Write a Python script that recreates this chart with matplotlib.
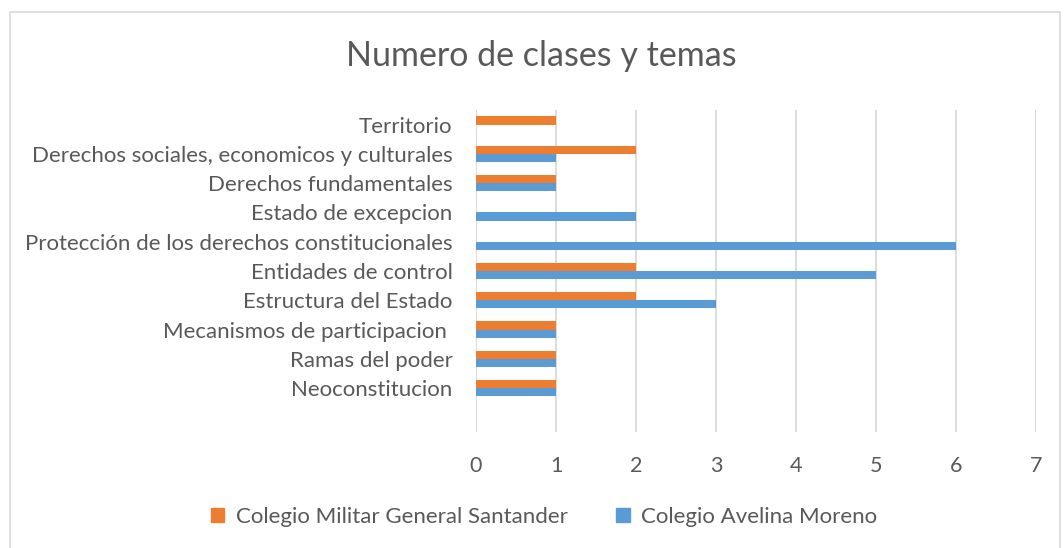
import matplotlib
matplotlib.use("Agg")
import matplotlib.pyplot as plt
from matplotlib.patches import Rectangle, Patch
import numpy as np

categories = ["Neoconstitucion", "Ramas del poder", "Mecanismos de participacion ",
              "Estructura del Estado", "Entidades de control",
              "Protección de los derechos constitucionales", "Estado de excepcion",
              "Derechos fundamentales", "Derechos sociales, economicos y culturales",
              "Territorio"]
militar = [1, 1, 1, 2, 2, 0, 0, 1, 2, 1]
avelina = [1, 1, 1, 3, 5, 6, 2, 1, 1, 0]
series_names = ["Colegio Militar General Santander", "Colegio Avelina Moreno"]
xticks = [0, 1, 2, 3, 4, 5, 6, 7]

ORANGE = "#ED7D31"
BLUE = "#5B9BD5"
TXT = "#595959"
GRID = "#D9D9D9"
FONT = "Lato"

W, H = 1064, 548
fig = plt.figure(figsize=(W / 100, H / 100), dpi=100)
ax = fig.add_axes([476 / W, 1 - 432 / H, (1036 - 476) / W, (432 - 110) / H])

y = np.arange(len(categories))
h = 0.28
ax.barh(y + h / 2, militar, height=h, color=ORANGE, zorder=3)
ax.barh(y - h / 2, avelina, height=h, color=BLUE, zorder=3)

ax.set_xlim(0, 7)
ax.set_ylim(-1.5, len(categories) - 0.5)
ax.set_xticks(xticks)
ax.set_xticklabels([str(t) for t in xticks], fontsize=15.5, color=TXT, family=FONT)
ax.set_yticks(y)
ax.set_yticklabels(categories, fontsize=16, color=TXT, family=FONT)
ax.tick_params(axis="both", length=0)
ax.tick_params(axis="x", pad=17)
ax.tick_params(axis="y", pad=17)
ax.grid(axis="x", color=GRID, linewidth=1.3, zorder=0)
for s in ax.spines.values():
    s.set_visible(False)

fig.text(541 / W, 1 - 56 / H, "Numero de clases y temas", ha="center", va="center",
         fontsize=24.5, color=TXT, family=FONT)

handles = [Patch(color=ORANGE), Patch(color=BLUE)]
leg = fig.legend(handles, series_names, loc="center", bbox_to_anchor=(544 / W, 1 - 517 / H),
                 ncol=2, frameon=False, prop={"family": FONT, "size": 16},
                 handlelength=0.6, handleheight=0.6, handletextpad=0.5, columnspacing=2.2)
for t in leg.get_texts():
    t.set_color(TXT)

fig.patches.append(Rectangle((10 / W, -0.01), (1060 - 10) / W, 1 - 12 / H + 0.01,
                             transform=fig.transFigure, fill=False, edgecolor=GRID,
                             linewidth=1.2))

fig.savefig("out.png", dpi=100)
